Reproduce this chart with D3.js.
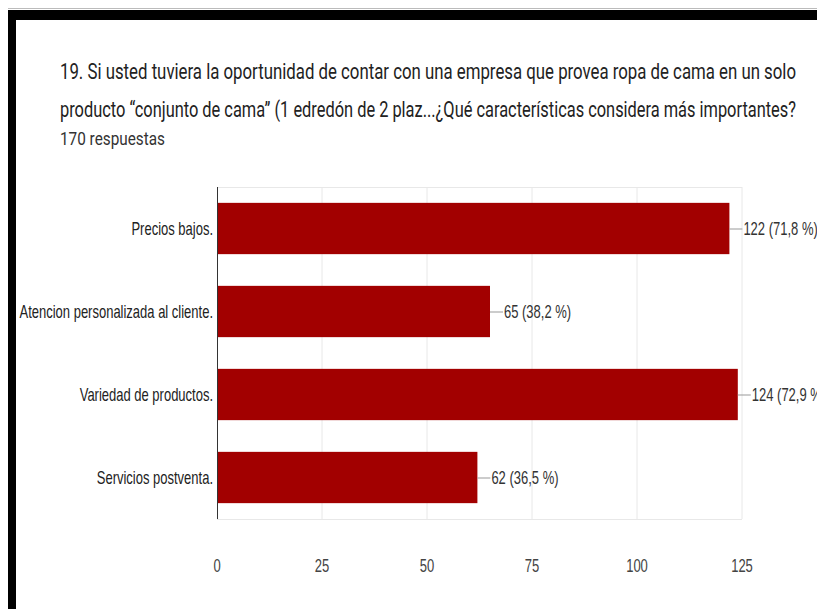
<!DOCTYPE html>
<html>
<head>
<meta charset="utf-8">
<script src="https://cdn.jsdelivr.net/npm/d3@7"></script>
<style>
  html, body { margin: 0; padding: 0; background: #fff; }
  svg { display: block; }
</style>
</head>
<body>
<svg id="chart" width="817" height="609"></svg>
<script>
// --- DATA ---
const categories = ["Precios bajos.", "Atencion personalizada al cliente.", "Variedad de productos.", "Servicios postventa."];
const counts = [122, 65, 124, 62];
const percents = ["71,8", "38,2", "72,9", "36,5"];
const xTicks = [0, 25, 50, 75, 100, 125];
const titleLines = [
    "19. Si usted tuviera la oportunidad de contar con una empresa que provea ropa de cama en un solo",
    "producto \u201cconjunto de cama\u201d (1 edredón de 2 plaz...¿Qué características considera más importantes?"
];
const subtitle = "170 respuestas";

// --- SETUP ---
const svg = d3.select("#chart");
const SY = 1.4; // the source picture is stretched vertically
const margin = { left: 217, right: 75, top: 187, bottom: 90 };
const W = 817, H = 609;

const x = d3.scaleLinear().domain([0, 125]).range([margin.left, W - margin.right]);
const y = d3.scaleBand().domain(categories).range([margin.top, H - margin.bottom]).paddingInner(0.382).paddingOuter(0.191);

function stretchedText(sel, px, py, txt) {
    return sel.append("text")
        .attr("transform", `translate(${px},${py}) scale(1,${SY})`)
        .text(txt);
}

// --- FRAME ---
svg.append("line").attr("x1", 8).attr("x2", W).attr("y1", 8.5).attr("y2", 8.5).attr("stroke", "#bbb");
svg.append("rect").attr("x", 8).attr("y", 10).attr("width", W - 8).attr("height", 10).attr("fill", "#000");
svg.append("rect").attr("x", 8).attr("y", 10).attr("width", 8).attr("height", H - 10).attr("fill", "#000");

// --- TITLE ---
const title = svg.append("g").attr("font-family", "Roboto, sans-serif").attr("fill", "#222");
titleLines.forEach((t, i) => {
    stretchedText(title, 60, 79 + i * 38, t)
        .attr("font-size", 16)
        .attr("textLength", 736)
        .attr("lengthAdjust", "spacingAndGlyphs");
});
stretchedText(title, 60, 145, subtitle)
    .attr("font-size", 12.5)
    .attr("fill", "#333")
    .attr("textLength", 105)
    .attr("lengthAdjust", "spacingAndGlyphs");

// --- GRID ---
const g = svg.append("g").attr("font-family", "'Liberation Sans', Arial, sans-serif");
const plotBottom = H - margin.bottom;

g.selectAll("line.grid").data(xTicks.slice(1)).join("line")
    .attr("class", "grid")
    .attr("x1", d => x(d)).attr("x2", d => x(d))
    .attr("y1", margin.top).attr("y2", plotBottom)
    .attr("stroke", "#e8e8e8");
g.append("line").attr("x1", x(0)).attr("x2", x(125)).attr("y1", margin.top + 0.5).attr("y2", margin.top + 0.5).attr("stroke", "#e8e8e8");
g.append("line").attr("x1", x(0)).attr("x2", x(125)).attr("y1", plotBottom + 0.5).attr("y2", plotBottom + 0.5).attr("stroke", "#e8e8e8");

// --- BARS ---
g.selectAll("rect.bar").data(counts).join("rect")
    .attr("class", "bar")
    .attr("x", x(0))
    .attr("y", (d, i) => y(categories[i]))
    .attr("width", d => x(d) - x(0))
    .attr("height", y.bandwidth())
    .attr("fill", "#a20000");

// zero axis
g.append("line").attr("x1", x(0) + 0.5).attr("x2", x(0) + 0.5).attr("y1", margin.top).attr("y2", plotBottom).attr("stroke", "#333");

// --- VALUE LABELS ---
counts.forEach((v, i) => {
    const cy = y(categories[i]) + y.bandwidth() / 2;
    g.append("line")
        .attr("x1", x(v)).attr("x2", x(v) + 13)
        .attr("y1", cy + 0.5).attr("y2", cy + 0.5)
        .attr("stroke", "#999");
    stretchedText(g, x(v) + 14, cy + 6, `${v} (${percents[i]} %)`)
        .attr("font-size", 13)
        .attr("fill", "#333");
});

// --- CATEGORY LABELS ---
categories.forEach(c => {
    stretchedText(g, x(0) - 4, y(c) + y.bandwidth() / 2 + 6, c)
        .attr("font-size", 13)
        .attr("text-anchor", "end")
        .attr("fill", "#222");
});

// --- X TICK LABELS ---
xTicks.forEach(t => {
    stretchedText(g, x(t), 572, d3.format("d")(t))
        .attr("font-size", 13)
        .attr("text-anchor", "middle")
        .attr("fill", "#444");
});
</script>
</body>
</html>
